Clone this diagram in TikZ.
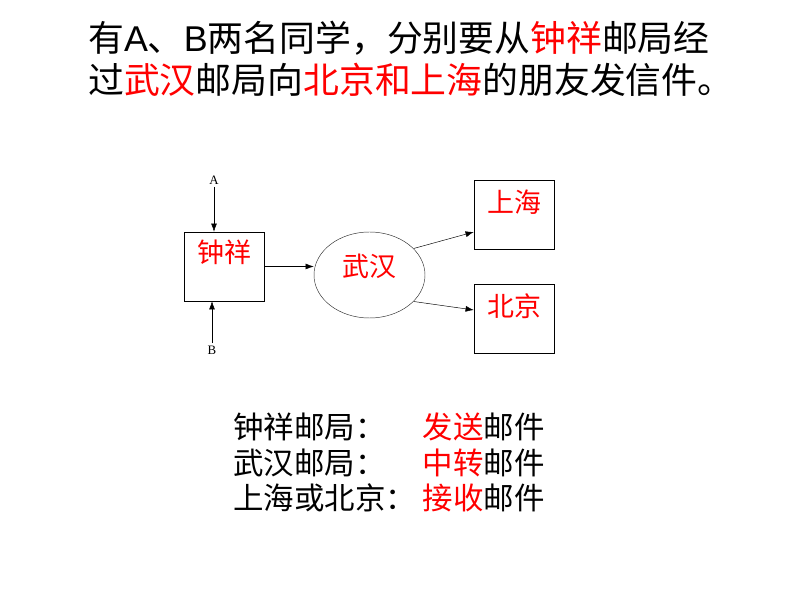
\documentclass[tikz,border=0pt]{standalone}
\usepackage{fontspec}
\setmainfont{Liberation Serif}
\newfontfamily\cjk{Noto Sans CJK SC}
\newfontfamily\lat{Liberation Sans}
\usetikzlibrary{shapes.geometric,arrows.meta}
\tikzset{
  post/.style={draw, inner sep=2pt, minimum width=2.4cm, minimum height=2.07cm,
    text depth=0.8cm, text=red, font=\cjk\fontsize{23}{23}\selectfont},
  hub/.style={draw=black!80, ellipse, inner sep=2pt, minimum width=3.33cm,
    minimum height=2.58cm, text depth=0.59cm, text=red, font=\cjk\fontsize{23}{23}\selectfont},
  txt/.style={inner sep=0pt, font=\cjk\fontsize{26}{26}\selectfont},
  title/.style={inner sep=0pt, anchor=west, font=\cjk\fontsize{30.6}{30.6}\selectfont},
  who/.style={inner sep=2pt, font=\fontsize{11}{11}\selectfont}
}
\begin{document}
\begin{tikzpicture}[>={Latex[length=7pt,width=5pt]}, x=0.03cm, y=-0.03cm]
\useasboundingbox (0,0) rectangle (800,600);
\node[title] (t1) at (88,38) {有{\lat A}、{\lat B}两名同学，分别要从\textcolor{red}{钟祥}邮局经};
\node[title] (t2) at (88,80) {过\textcolor{red}{武汉}邮局向\textcolor{red}{北京和上海}的朋友发信件。};

\node[post, text depth=0.92cm] (zx) at (224,266.5) {钟祥};
\node[hub] (wh) at (369.5,275) {武汉};
\node[post] (sh) at (514,214.5) {上海};
\node[post] (bj) at (514,318.5) {北京};

\node[who] (A) at (214,180) {A};
\node[who] (B) at (212,350) {B};
\draw[->] (A) -- (A |- zx.north);
\draw[->] (B) -- (B |- zx.south);
\draw[->] (zx.east) -- (zx.east -| wh.west);
\draw[->] (wh.31) -- ([yshift=-0.525cm]sh.west);
\draw[->] (wh.-31) -- ([yshift=0.255cm]bj.west);

\node[txt, anchor=west] (l1) at (233,427) {钟祥邮局：};
\node[txt, anchor=east] (r1) at (545,427) {\textcolor{red}{发送}邮件};
\node[txt, anchor=west] (l2) at (233,463) {武汉邮局：};
\node[txt, anchor=east] (r2) at (545,463) {\textcolor{red}{中转}邮件};
\node[txt, anchor=west] (l3) at (233,498) {上海或北京：};
\node[txt, anchor=east] (r3) at (545,498) {\textcolor{red}{接收}邮件};
\end{tikzpicture}
\end{document}
